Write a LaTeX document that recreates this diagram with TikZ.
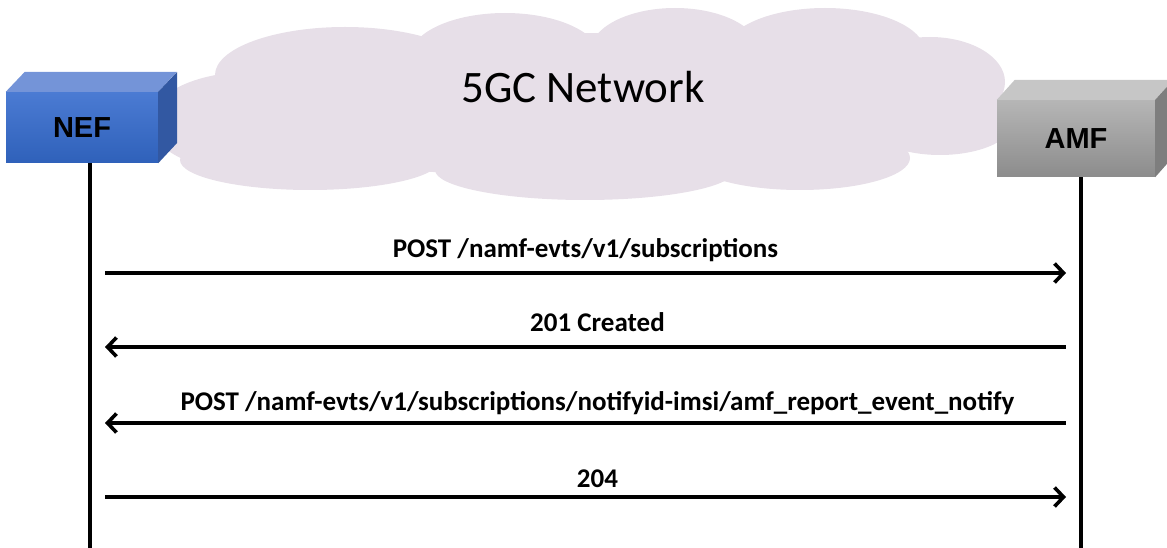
\documentclass[tikz,border=0pt]{standalone}
\usepackage{fontspec}
\setmainfont{Carlito}
\newfontfamily\boxfont{Liberation Sans}
\usetikzlibrary{arrows.meta,positioning}
\tikzset{>={Straight Barb[length=9pt,width=19pt]}}

\definecolor{cloudc}{HTML}{E7DFE8}
\definecolor{neftop}{HTML}{4B7BD3}
\definecolor{nefbot}{HTML}{2F61BA}
\definecolor{neflid}{HTML}{7494D8}
\definecolor{nefside}{HTML}{3258A2}
\definecolor{amftop}{HTML}{B6B6B6}
\definecolor{amfbot}{HTML}{8C8C8C}
\definecolor{amflid}{HTML}{C6C6C6}
\definecolor{amfside}{HTML}{7E7E7E}

\tikzset{
  nfbox/.style={inner sep=0pt, font=\boxfont\bfseries\fontsize{29}{31}\selectfont},
  lifeline/.style={line width=3.6pt},
  msg/.style={line width=3.6pt, shorten <=15pt, shorten >=15pt},
  msglabel/.style={midway, anchor=base, font=\bfseries\fontsize{27}{29}\selectfont}
}

\begin{document}
\begin{tikzpicture}[x=1pt,y=-1pt]
  \useasboundingbox (0,0) rectangle (1167,548);

  %% 5GC cloud
  \begin{scope}[fill=cloudc]
    \fill (580,105) ellipse [x radius=400pt, y radius=72pt];
    \fill (345,75) ellipse [x radius=130pt, y radius=48pt];
    \fill (505,57) ellipse [x radius=95pt, y radius=44pt];
    \fill (675,52) ellipse [x radius=85pt, y radius=44pt];
    \fill (825,52) ellipse [x radius=100pt, y radius=44pt];
    \fill (930,82) ellipse [x radius=75pt, y radius=45pt];
    \fill (940,120) ellipse [x radius=75pt, y radius=35pt];
    \fill (250,122) ellipse [x radius=100pt, y radius=50pt];
    \fill (310,160) ellipse [x radius=130pt, y radius=30pt];
    \fill (585,170) ellipse [x radius=150pt, y radius=30pt];
    \fill (800,158) ellipse [x radius=110pt, y radius=32pt];
  \end{scope}
  \node[font=\fontsize{45}{47}\selectfont] (net) at (583,87) {5GC Network};

  %% NEF box
  \node[nfbox, minimum width=152pt, minimum height=71pt,
        top color=neftop, bottom color=nefbot] (nef) at (82,127.5) {NEF};
  \fill[neflid] (nef.north west) -- ++(19,-20) -- ++(152,0) -- (nef.north east) -- cycle;
  \fill[nefside] (nef.north east) -- ++(19,-20) -- ++(0,71) -- (nef.south east) -- cycle;

  %% AMF box
  \node[nfbox, minimum width=158pt, minimum height=77pt,
        top color=amftop, bottom color=amfbot] (amf) at (1076,138.5) {AMF};
  \fill[amflid] (amf.north west) -- ++(18,-20) -- ++(158,0) -- (amf.north east) -- cycle;
  \fill[amfside] (amf.north east) -- ++(18,-20) -- ++(0,77) -- (amf.south east) -- cycle;

  %% lifelines
  \coordinate (nefl) at ([xshift=8pt]nef.south);
  \coordinate (amfl) at ([xshift=5pt]amf.south);
  \coordinate (nefend) at (nefl |- 0,548);
  \coordinate (amfend) at (amfl |- 0,548);
  \draw[lifeline] (nefl) -- (nefend);
  \draw[lifeline] (amfl) -- (amfend);

  %% messages
  \foreach \n/\y in {1/273, 2/347, 3/423, 4/497} {
    \coordinate (n\n) at (nefl |- 0,\y);
    \coordinate (a\n) at (amfl |- 0,\y);
  }
  \draw[msg,->] (n1) -- node[msglabel, yshift=16pt] {POST /namf-evts/v1/subscriptions} (a1);
  \draw[msg,<-] (n2) -- node[msglabel, yshift=16pt, xshift=12pt] {201 Created} (a2);
  \draw[msg,<-] (n3) -- node[msglabel, yshift=13pt, xshift=12pt] {POST /namf-evts/v1/subscriptions/notifyid-imsi/amf\_report\_event\_notify} (a3);
  \draw[msg,->] (n4) -- node[msglabel, yshift=10pt, xshift=12pt] {204} (a4);

\end{tikzpicture}
\end{document}
